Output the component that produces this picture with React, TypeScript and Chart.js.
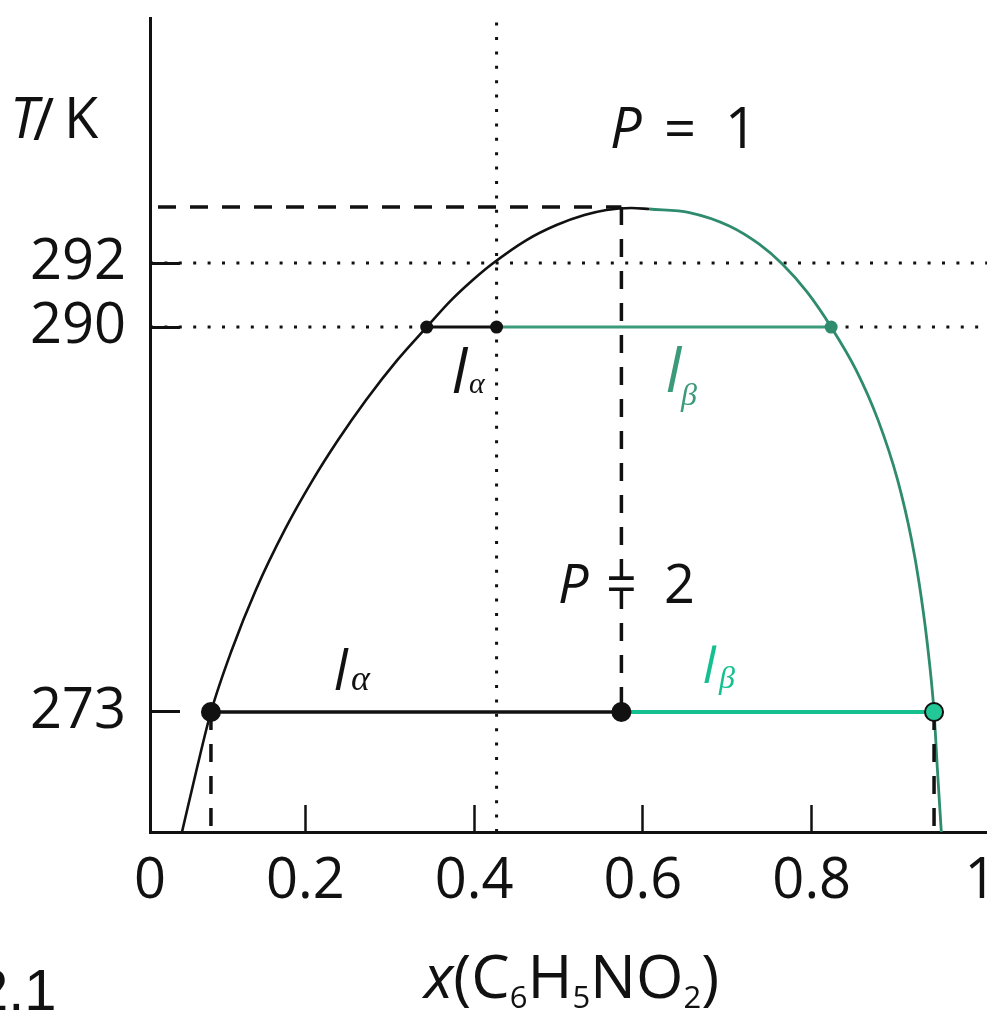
import React, { useEffect, useRef } from 'react';
import { Chart, registerables, LinearScale } from 'chart.js';

Chart.register(...registerables);

// ---------- data ----------
const X_TICKS = [0, 0.2, 0.4, 0.6, 0.8, 1];
const X_TICK_LABELS = ['0', '0.2', '0.4', '0.6', '0.8', '1'];
const Y_TICKS = [273, 290, 292];

const X_MIN = 0.016;
const X_MAX = 1.01;
const T_MIN = 267.7;
const T_MAX = 299.66;

// schematic temperature axis: stretched above the break
const T_BREAK = 290;
const UPPER_STRETCH = 1.413;

// alpha-rich (left, black) branch of the coexistence curve
const ALPHA_X = [0.0539, 0.0711, 0.0882, 0.1129, 0.1414, 0.1756, 0.2089, 0.2388, 0.272, 0.3089, 0.3438, 0.3729, 0.3984, 0.4212, 0.4621, 0.4976, 0.5307, 0.5568, 0.5864, 0.6077];
const ALPHA_T = [267.7, 270.44, 273.0, 275.74, 278.39, 281.04, 283.25, 285.01, 286.78, 288.54, 290.0, 290.84, 291.47, 291.97, 292.72, 293.19, 293.5, 293.66, 293.72, 293.69];

// beta-rich (right, green) branch
const BETA_X = [0.6077, 0.655, 0.7023, 0.7378, 0.7651, 0.7946, 0.823, 0.8526, 0.8786, 0.9017, 0.9183, 0.9272, 0.9364, 0.9449, 0.9489, 0.9535];
const BETA_T = [293.69, 293.58, 293.16, 292.59, 291.97, 291.09, 290.0, 288.1, 285.89, 283.25, 280.6, 278.7, 276.18, 273.0, 270.44, 267.7];

const T_UPPER_CRITICAL = 293.75;
const T_GUIDE = 292;

const TIE_LOW_T = 273;
const TIE_LOW_X = [0.0882, 0.5745, 0.9449]; // x_alpha, overall, x_beta

const TIE_HIGH_T = 290;
const TIE_HIGH_X = [0.3438, 0.4266, 0.823]; // x_alpha, overall, x_beta

// ---------- colours ----------
const INK = '#111111';
const CURVE_GREEN = '#2e8b6e';
const TIE_GREEN_HIGH = '#3a9a7a';
const TIE_GREEN_LOW = '#14c08f';
const DOT_GREEN_LOW = '#22c896';

const warp = (t: number) => (t <= T_BREAK ? t : T_BREAK + (t - T_BREAK) * UPPER_STRETCH);
const unwarp = (w: number) => (w <= T_BREAK ? w : T_BREAK + (w - T_BREAK) / UPPER_STRETCH);

class BrokenTemperatureScale extends LinearScale {
  static id = 'brokenTemperature';
  static defaults = LinearScale.defaults;
  getPixelForValue(value: any) {
    if (value === null || value === undefined || isNaN(value)) return NaN;
    const w0 = warp(this.min);
    const w1 = warp(this.max);
    return this.getPixelForDecimal((warp(value) - w0) / (w1 - w0));
  }
  getValueForPixel(pixel: number) {
    const w0 = warp(this.min);
    const w1 = warp(this.max);
    return unwarp(w0 + this.getDecimalForPixel(pixel) * (w1 - w0));
  }
}
Chart.register(BrokenTemperatureScale as any);

const zip = (xs: number[], ts: number[]) => xs.map((x, i) => ({ x, y: ts[i] }));

const seg = (x0: number, t0: number, x1: number, t1: number) => [
  { x: x0, y: t0 },
  { x: x1, y: t1 },
];

const SANS = '"Open Sans"';
const SERIF = '"Liberation Serif"';

const textPlugin = {
  id: 'diagramText',
  afterDraw(chart: any) {
    const ctx: CanvasRenderingContext2D = chart.ctx;
    ctx.save();
    ctx.textBaseline = 'alphabetic';
    const put = (t: string, x: number, y: number, font: string, color = INK, align: CanvasTextAlign = 'left') => {
      ctx.font = font;
      ctx.fillStyle = color;
      ctx.textAlign = align;
      ctx.fillText(t, x, y);
    };

    // axis title T/K
    put('T', 10, 138, `italic 56px ${SANS}`);
    put('/', 33, 140, `58px ${SANS}`);
    put('K', 64, 138, `56px ${SANS}`);

    // P = 1, P = 2
    put('P', 610, 148, `italic 56px ${SANS}`);
    put('=', 664, 148, `56px ${SANS}`);
    put('1', 725, 148, `56px ${SANS}`);

    put('P', 558, 603, `italic 54px ${SANS}`);
    put('=', 606, 603, `54px ${SANS}`);
    put('2', 664, 603, `54px ${SANS}`);

    // lever labels at 290 K
    put('l', 452, 393, `italic 60px ${SANS}`);
    put('\u03b1', 469, 393, `italic 30px ${SERIF}`);
    put('l', 666, 392, `italic 60px ${SANS}`, TIE_GREEN_HIGH);
    put('\u03b2', 681, 405, `italic 32px ${SERIF}`, TIE_GREEN_HIGH);

    // lever labels at 273 K
    put('l', 334, 690, `italic 54px ${SANS}`);
    put('\u03b1', 351, 690, `italic 36px ${SERIF}`);
    put('l', 703, 683, `italic 50px ${SANS}`, TIE_GREEN_LOW);
    put('\u03b2', 719, 688, `italic 32px ${SERIF}`, TIE_GREEN_LOW);

    // x axis title x(C6H5NO2)
    const parts: { t: string; sub?: boolean; it?: boolean }[] = [
      { t: 'x', it: true },
      { t: '(C' },
      { t: '6', sub: true },
      { t: 'H' },
      { t: '5', sub: true },
      { t: 'NO' },
      { t: '2', sub: true },
      { t: ')' },
    ];
    let cx = 424;
    for (const p of parts) {
      const font = p.sub ? `31px ${SANS}` : `${p.it ? 'italic ' : ''}61px ${SANS}`;
      ctx.font = font;
      ctx.fillStyle = INK;
      ctx.textAlign = 'left';
      ctx.fillText(p.t, cx, p.sub ? 1008 : 998);
      cx += ctx.measureText(p.t).width;
    }

    // figure number fragment
    put('2.1', -24, 1010, `58px "Liberation Sans"`);

    ctx.restore();
  },
};

export default function App() {
  const canvasRef = useRef<HTMLCanvasElement | null>(null);

  useEffect(() => {
    const canvas = canvasRef.current;
    if (!canvas) return;

    const dotted = { borderColor: INK, borderWidth: 3, borderDash: [3, 11.4], borderCapStyle: 'butt', pointRadius: 0, tension: 0, order: 5 };
    const dashed = { borderColor: INK, borderWidth: 3.5, borderDash: [18, 14], borderCapStyle: 'butt', pointRadius: 0, tension: 0, order: 3 };

    const datasets: any[] = [
      // dotted guides
      { ...dotted, data: seg(X_MIN, T_GUIDE, X_MAX, T_GUIDE) },
      { ...dotted, data: seg(X_MIN, TIE_HIGH_T, TIE_HIGH_X[0], TIE_HIGH_T) },
      { ...dotted, data: seg(TIE_HIGH_X[2], TIE_HIGH_T, X_MAX, TIE_HIGH_T) },
      { ...dotted, data: seg(TIE_HIGH_X[1], T_MIN, TIE_HIGH_X[1], T_MAX) },
      // coexistence curve
      { data: zip(ALPHA_X, ALPHA_T), borderColor: INK, borderWidth: 2.6, pointRadius: 0, cubicInterpolationMode: 'monotone', order: 4 },
      { data: zip(BETA_X, BETA_T), borderColor: CURVE_GREEN, borderWidth: 2.8, pointRadius: 0, cubicInterpolationMode: 'monotone', order: 4 },
      // dashed construction lines
      { ...dashed, borderDashOffset: 24, data: seg(X_MIN, T_UPPER_CRITICAL, TIE_LOW_X[1], T_UPPER_CRITICAL) },
      { ...dashed, data: seg(TIE_LOW_X[1], T_UPPER_CRITICAL, TIE_LOW_X[1], TIE_LOW_T) },
      { ...dashed, data: seg(TIE_LOW_X[0], TIE_LOW_T, TIE_LOW_X[0], T_MIN) },
      { ...dashed, data: seg(TIE_LOW_X[2], TIE_LOW_T, TIE_LOW_X[2], T_MIN) },
      // tie lines
      { data: seg(TIE_HIGH_X[0], TIE_HIGH_T, TIE_HIGH_X[1], TIE_HIGH_T), borderColor: INK, borderWidth: 3, pointRadius: 0, tension: 0, order: 2 },
      { data: seg(TIE_HIGH_X[1], TIE_HIGH_T, TIE_HIGH_X[2], TIE_HIGH_T), borderColor: TIE_GREEN_HIGH, borderWidth: 3, pointRadius: 0, tension: 0, order: 2 },
      { data: seg(TIE_LOW_X[0], TIE_LOW_T, TIE_LOW_X[1], TIE_LOW_T), borderColor: INK, borderWidth: 3.5, pointRadius: 0, tension: 0, order: 2 },
      { data: seg(TIE_LOW_X[1], TIE_LOW_T, TIE_LOW_X[2], TIE_LOW_T), borderColor: TIE_GREEN_LOW, borderWidth: 4, pointRadius: 0, tension: 0, order: 2 },
      // dots
      { data: [{ x: TIE_HIGH_X[0], y: TIE_HIGH_T }, { x: TIE_HIGH_X[1], y: TIE_HIGH_T }], showLine: false, pointRadius: 6.5, pointBackgroundColor: INK, pointBorderWidth: 0, order: 0 },
      { data: [{ x: TIE_HIGH_X[2], y: TIE_HIGH_T }], showLine: false, pointRadius: 6.5, pointBackgroundColor: CURVE_GREEN, pointBorderWidth: 0, order: 0 },
      { data: [{ x: TIE_LOW_X[0], y: TIE_LOW_T }, { x: TIE_LOW_X[1], y: TIE_LOW_T }], showLine: false, pointRadius: 10, pointBackgroundColor: INK, pointBorderWidth: 0, order: 0 },
      { data: [{ x: TIE_LOW_X[2], y: TIE_LOW_T }], showLine: false, pointRadius: 9, pointBackgroundColor: DOT_GREEN_LOW, pointBorderColor: INK, pointBorderWidth: 2, order: 0 },
    ];

    const chart = new Chart(canvas, {
      type: 'line',
      data: { datasets },
      options: {
        animation: false,
        responsive: false,
        devicePixelRatio: 1,
        events: [],
        layout: { padding: { left: 0, right: 10, top: 18, bottom: 0 } },
        plugins: { legend: { display: false }, tooltip: { enabled: false }, title: { display: false } },
        scales: {
          x: {
            type: 'linear',
            min: X_MIN,
            max: X_MAX,
            position: 'bottom',
            border: { display: true, color: INK, width: 3 },
            grid: {
              drawOnChartArea: false,
              drawTicks: true,
              tickLength: -27,
              tickWidth: 2.5,
              tickColor: (c: any) => (c.index === 0 || c.index === X_TICKS.length - 1 ? 'rgba(0,0,0,0)' : INK),
            },
            ticks: {
              padding: 43,
              color: INK,
              autoSkip: false,
              maxRotation: 0,
              font: { family: 'Open Sans', size: 56 },
              callback: (_v: any, i: number) => X_TICK_LABELS[i],
            },
            afterBuildTicks: (s: any) => {
              s.ticks = X_TICKS.map((v) => ({ value: v === 0 ? s.min : v }));
            },
            afterFit: (s: any) => {
              s.height = 180;
              s.paddingLeft = 0;
              s.paddingRight = 0;
            },
          },
          y: {
            type: 'brokenTemperature',
            min: T_MIN,
            max: T_MAX,
            position: 'left',
            border: { display: true, color: INK, width: 3 },
            grid: { drawOnChartArea: false, drawTicks: true, tickLength: -30, tickWidth: 3, tickColor: INK },
            ticks: {
              padding: 54,
              color: INK,
              autoSkip: false,
              font: { family: 'Open Sans', size: 56 },
              callback: (v: any) => String(v),
            },
            afterBuildTicks: (s: any) => {
              s.ticks = Y_TICKS.map((v) => ({ value: v }));
            },
            afterFit: (s: any) => {
              s.width = 150;
              s.paddingTop = 0;
              s.paddingBottom = 0;
            },
          },
        } as any,
      },
      plugins: [textPlugin],
    } as any);

    return () => chart.destroy();
  }, []);

  return (
    <div style={{ position: 'fixed', left: 0, top: 0, width: 987, height: 1012, overflow: 'hidden', background: '#ffffff' }}>
      <canvas ref={canvasRef} width={1000} height={1012} style={{ display: 'block' }} />
    </div>
  );
}
